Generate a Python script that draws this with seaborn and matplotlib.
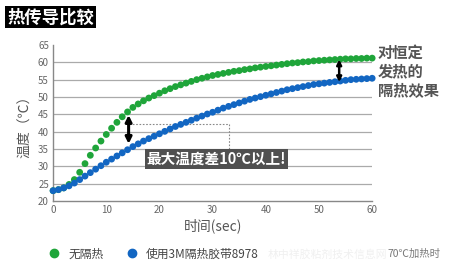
import matplotlib
matplotlib.use("Agg")
import matplotlib.pyplot as plt
import seaborn as sns
import pandas as pd
from matplotlib.lines import Line2D

sns.set_style("white")
plt.rcParams['font.family'] = ['Noto Sans CJK SC', 'DejaVu Sans']

time_sec = list(range(0, 61))
no_insulation = [23.0, 23.3, 23.8, 24.8, 26.2, 28.3, 30.8, 33.2, 35.3, 37.3,
                 39.2, 41.0, 42.7, 44.3, 45.7, 47.0, 48.0, 48.9, 49.7, 50.4,
                 51.1, 51.8, 52.4, 53.0, 53.5, 54.0, 54.5, 55.0, 55.4, 55.8,
                 56.2, 56.5, 56.8, 57.1, 57.4, 57.6, 57.9, 58.1, 58.4, 58.6,
                 58.8, 59.0, 59.2, 59.4, 59.6, 59.8, 59.9, 60.1, 60.2, 60.4,
                 60.5, 60.6, 60.7, 60.8, 60.9, 61.0, 61.0, 61.1, 61.1, 61.2, 61.2]
with_tape = [23.0, 23.3, 23.8, 24.4, 25.2, 26.2, 27.2, 28.2, 29.2, 30.2,
             31.2, 32.1, 33.0, 33.9, 34.8, 35.7, 36.5, 37.3, 38.0, 38.7,
             39.4, 40.1, 40.8, 41.5, 42.1, 42.7, 43.3, 43.9, 44.5, 45.1,
             45.6, 46.2, 46.8, 47.3, 47.8, 48.3, 48.8, 49.3, 49.7, 50.1,
             50.5, 50.9, 51.3, 51.7, 52.1, 52.4, 52.7, 53.0, 53.3, 53.6,
             53.8, 54.0, 54.2, 54.4, 54.6, 54.8, 55.0, 55.1, 55.2, 55.3, 55.4]
series_names = ["无隔热", "使用3M隔热胶带8978"]
colors = ["#1fa53a", "#1266c2"]
y_ticks = [20, 25, 30, 35, 40, 45, 50, 55, 60, 65]
x_ticks = [0, 10, 20, 30, 40, 50, 60]

df = pd.DataFrame({
    "t": time_sec * 2,
    "T": no_insulation + with_tape,
    "s": [series_names[0]] * len(time_sec) + [series_names[1]] * len(time_sec),
})

fig = plt.figure(figsize=(4.5, 2.66), dpi=100)
ax = fig.add_axes([0.118, 0.244, 0.709, 0.587])

for v in y_ticks[1:-1]:
    ax.axhline(v, color="#aaaaaa", lw=0.9, zorder=0)

sns.scatterplot(data=df, x="t", y="T", hue="s", palette=colors, s=24,
                linewidth=0, ax=ax, legend=False, clip_on=False, zorder=3)

ax.set_xlim(0, 60)
ax.set_ylim(20, 65)
ax.set_xticks(x_ticks)
ax.set_yticks(y_ticks)
ax.tick_params(axis="both", length=0, labelsize=7, colors="#666666", pad=3)
for sp in ["top", "right"]:
    ax.spines[sp].set_visible(False)
for sp in ["left", "bottom"]:
    ax.spines[sp].set_color("#888888")
    ax.spines[sp].set_linewidth(1.0)

ax.set_xlabel("时间(sec)", fontsize=10, color="#555555", labelpad=2)
ax.set_ylabel("温度（℃）", fontsize=10, color="#555555", labelpad=4)

# dotted guide
ax.plot([14.3, 33.1], [42.2, 42.2], ls=(0, (1.5, 1.5)), color="#888888", lw=0.8, zorder=2)
ax.plot([33.1, 33.1], [42.2, 34.5], ls=(0, (1.5, 1.5)), color="#888888", lw=0.8, zorder=2)

# arrows
ax.annotate("", xy=(14.2, 36.5), xytext=(14.2, 44.8),
            arrowprops=dict(arrowstyle="<|-|>", color="black", lw=2.2,
                            mutation_scale=9, shrinkA=0, shrinkB=0), zorder=4)
ax.annotate("", xy=(53.8, 54.3), xytext=(53.8, 60.8),
            arrowprops=dict(arrowstyle="<|-|>", color="black", lw=1.8,
                            mutation_scale=7, shrinkA=0, shrinkB=0), zorder=4)

# label box
ax.text(17.6, 32.1, "最大温度差10℃以上!", fontsize=10.5, color="white",
        va="center", ha="left", fontweight="bold",
        bbox=dict(boxstyle="square,pad=0.15", fc="#505050", ec="none"), zorder=5)

fig.text(0.84, 0.73, "对恒定\n发热的\n隔热效果", fontsize=11, color="#555555",
         va="center", ha="left", linespacing=1.2, fontweight="bold")

fig.text(0.016, 0.935, "热传导比较", fontsize=12.5, color="white", fontweight="bold",
         va="center", ha="left",
         bbox=dict(boxstyle="square,pad=0.12", fc="black", ec="none"))

handles = [Line2D([], [], marker="o", ls="none", color=c, markersize=6) for c in colors]
fig.legend(handles, series_names, loc="center left", bbox_to_anchor=(0.083, 0.045),
           ncol=2, frameon=False, fontsize=8.5, handletextpad=0.2,
           columnspacing=1.4, labelcolor="#444444", borderaxespad=0)

fig.text(0.595, 0.045, "林中祥胶粘剂技术信息网", fontsize=7.8, color="#f0f0f0",
         va="center", ha="left")
fig.text(0.862, 0.045, "70℃加热时", fontsize=7.5, color="#777777",
         va="center", ha="left")

fig.savefig("out.png", dpi=100)
